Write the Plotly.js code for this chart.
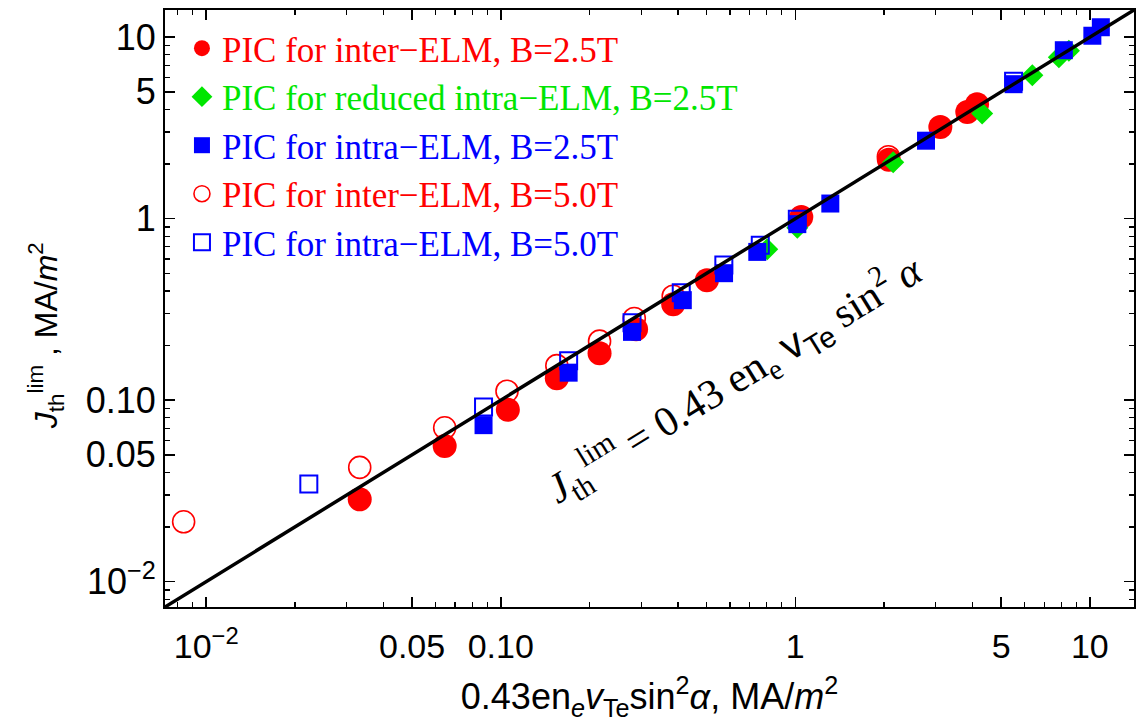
<!DOCTYPE html>
<html>
<head>
<meta charset="utf-8">
<script src="https://cdn.plot.ly/plotly-3.0.1.min.js"></script>
<style>
  html, body { margin: 0; padding: 0; background: #fff; }
  #chart { width: 1138px; height: 724px; }
</style>
</head>
<body>
<div id="chart"></div>
<script>
// ---- data (MA/m^2) ----
// PIC for inter-ELM, B=2.5T (filled red circles)
const interB25_x = [0.0332, 0.0645, 0.1057, 0.155, 0.2165, 0.288, 0.385, 0.501, 1.048, 2.077, 3.108, 3.837, 4.14];
const interB25_y = [0.0284, 0.0558, 0.0886, 0.132, 0.1815, 0.246, 0.338, 0.458, 1.023, 2.11, 3.20, 3.877, 4.27];
// PIC for reduced intra-ELM, B=2.5T (green diamonds)
const redIntraB25_x = [0.803, 1.016, 2.15, 4.31, 6.38, 7.85, 8.49];
const redIntraB25_y = [0.679, 0.892, 2.048, 3.80, 6.17, 7.76, 8.43];
// PIC for intra-ELM, B=2.5T (filled blue squares)
const intraB25_x = [0.0874, 0.170, 0.279, 0.415, 0.573, 0.743, 1.016, 1.315, 2.779, 5.51, 8.16, 10.2, 10.9];
const intraB25_y = [0.0728, 0.1417, 0.2378, 0.3556, 0.5007, 0.656, 0.933, 1.212, 2.69, 5.51, 8.48, 10.19, 11.35];
// PIC for inter-ELM, B=5.0T (open red circles)
const interB50_x = [0.00838, 0.0332, 0.0645, 0.105, 0.155, 0.2165, 0.284, 0.385, 2.07];
const interB50_y = [0.02136, 0.0426, 0.0704, 0.112, 0.1549, 0.2114, 0.282, 0.374, 2.196];
// PIC for intra-ELM, B=5.0T (open blue squares)
const intraB50_x = [0.0223, 0.0874, 0.170, 0.279, 0.410, 0.572, 0.7605, 1.016, 5.51];
const intraB50_y = [0.0345, 0.0918, 0.165, 0.267, 0.391, 0.555, 0.714, 0.994, 5.72];
// Scaling line J = 0.43 e n_e v_Te sin^2(alpha)  (y = x)
const fitX = [0.005, 20];
const fitY = fitX.map(v => v);

// ---- axis ticks ----
const majorTicks = [0.01, 0.05, 0.1, 1, 5, 10];
const xTickText = ['10<sup>\u22122</sup>', '0.05', '0.10', '1', '5', '10'];
const yTickText = ['10<sup>\u22122</sup>', '0.05', '0.10', '1', '5', '10'];
const minorTicks = [];
[0.001, 0.01, 0.1, 1, 10].forEach(d => {
  for (let k = 2; k <= 9; k++) {
    const v = +(d * k).toPrecision(3);
    if (!majorTicks.includes(v)) minorTicks.push(v);
  }
});

const RED = 'rgb(255,0,0)';
const GREEN = 'rgb(0,230,0)';
const BLUE = 'rgb(0,0,255)';

const traces = [
  {
    x: interB50_x, y: interB50_y, type: 'scatter', mode: 'markers',
    name: '<span style="color:' + RED + '">PIC for inter\u2212ELM, B=5.0T</span>',
    legendrank: 4,
    marker: { symbol: 'circle-open', size: 22, color: RED, line: { width: 1.6, color: RED } }
  },
  {
    x: interB25_x, y: interB25_y, type: 'scatter', mode: 'markers',
    name: '<span style="color:' + RED + '">PIC for inter\u2212ELM, B=2.5T</span>',
    legendrank: 1,
    marker: { symbol: 'circle', size: 24, color: RED, line: { width: 0 } }
  },
  {
    x: redIntraB25_x, y: redIntraB25_y, type: 'scatter', mode: 'markers',
    name: '<span style="color:' + GREEN + '">PIC for reduced intra\u2212ELM, B=2.5T</span>',
    legendrank: 2,
    marker: { symbol: 'diamond', size: 17, color: GREEN, line: { width: 0 } }
  },
  {
    x: intraB25_x, y: intraB25_y, type: 'scatter', mode: 'markers',
    name: '<span style="color:' + BLUE + '">PIC for intra\u2212ELM, B=2.5T</span>',
    legendrank: 3,
    marker: { symbol: 'square', size: 18, color: BLUE, line: { width: 0 } }
  },
  {
    x: intraB50_x, y: intraB50_y, type: 'scatter', mode: 'markers',
    name: '<span style="color:' + BLUE + '">PIC for intra\u2212ELM, B=5.0T</span>',
    legendrank: 5,
    marker: { symbol: 'square-open', size: 17, color: BLUE, line: { width: 2, color: BLUE } }
  },
  {
    x: fitX, y: fitY, type: 'scatter', mode: 'lines', showlegend: false,
    line: { color: 'black', width: 3.5 }, hoverinfo: 'skip'
  }
];

const axisCommon = {
  type: 'log',
  range: [-2.14, 1.15],
  showline: true, linecolor: 'black', linewidth: 2, mirror: 'allticks',
  ticks: 'inside', ticklen: 10, tickwidth: 1.5, tickcolor: 'black',
  tickmode: 'array', tickvals: majorTicks,
  minor: { tickmode: 'array', tickvals: minorTicks, ticks: 'inside', ticklen: 5, tickwidth: 1.3, tickcolor: 'black', showgrid: false },
  showgrid: false, zeroline: false
};

const SANS = 'Liberation Sans, Arial, sans-serif';

const layout = {
  width: 1138, height: 724,
  margin: { l: 165, r: 4, t: 10, b: 117 },
  paper_bgcolor: 'white', plot_bgcolor: 'white',
  showlegend: true,
  legend: {
    x: 0.0175, y: 0.985, xanchor: 'left', yanchor: 'top',
    bgcolor: 'rgba(0,0,0,0)', borderwidth: 0,
    font: { family: 'Liberation Serif, Times New Roman, serif', size: 35, color: 'black' },
    tracegroupgap: 0
  },
  xaxis: Object.assign({}, axisCommon, {
    ticktext: xTickText,
    ticklabelstandoff: 8,
    automargin: true,
    tickfont: { family: SANS, size: 34, color: 'black' },
    title: {
      text: '0.43en<sub><i>e</i></sub><i>v</i><sub>Te</sub>sin<sup>2</sup><i>\u03b1</i>, MA/<i>m</i><sup>2</sup>',
      font: { family: SANS, size: 36, color: 'black' },
      standoff: 20
    }
  }),
  yaxis: Object.assign({}, axisCommon, {
    ticktext: yTickText,
    ticklabelstandoff: 0,
    tickfont: { family: SANS, size: 36, color: 'black' }
  }),
  annotations: [
    {
      xref: 'paper', yref: 'paper', x: -0.123, y: 0.455,
      text: '<i>J</i><sub>th</sub><sup>lim</sup> , MA/<i>m</i><sup>2</sup>',
      textangle: -90, showarrow: false,
      font: { family: SANS, size: 32, color: 'black' },
      xanchor: 'center', yanchor: 'middle'
    },
    {
      xref: 'paper', yref: 'paper', x: 0.587, y: 0.382,
      text: '<i>J</i><sub>th</sub><sup>lim</sup> = 0.43 en<sub>e</sub> <span style="font-family:Liberation Sans">v<sub>Te</sub></span> sin<sup>2</sup> <i>\u03b1</i>',
      textangle: -31.6, showarrow: false,
      font: { family: 'Liberation Serif, Times New Roman, serif', size: 42, color: 'black' },
      xanchor: 'center', yanchor: 'middle'
    }
  ]
};

Plotly.newPlot('chart', traces, layout, { staticPlot: true, displayModeBar: false });
</script>
</body>
</html>
